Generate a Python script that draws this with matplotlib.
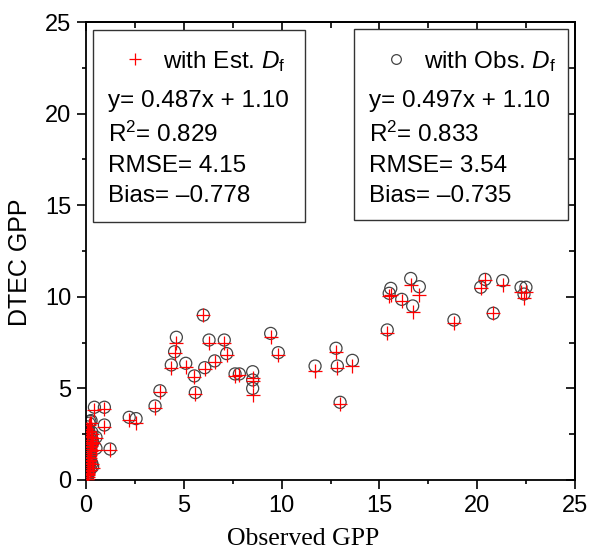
import matplotlib.pyplot as plt
from matplotlib.patches import Rectangle
from matplotlib.ticker import MultipleLocator

plt.rcParams['font.family'] = ['Liberation Sans', 'DejaVu Sans']
plt.rcParams['mathtext.fontset'] = 'custom'
plt.rcParams['mathtext.rm'] = 'Liberation Sans'
plt.rcParams['mathtext.it'] = 'Liberation Sans:italic'

# observed GPP (x) and DTEC GPP with observed / estimated Df (y)
gpp_obs = [
    6.00, 6.29, 7.07, 7.19, 4.62, 4.53, 4.36, 5.10, 5.54, 5.59, 6.07, 6.58,
    7.62, 7.84, 8.52, 8.52, 8.52, 3.78, 3.53, 2.21, 2.56, 1.23, 0.43, 0.94,
    0.94, 0.26, 0.51, 0.51, 0.34,
    9.44, 9.83, 11.71, 12.78, 12.85, 13.62, 12.99, 15.40, 18.81, 20.82, 16.70,
    15.58, 15.50, 16.60, 17.04, 16.14, 20.40, 20.18, 21.30, 22.24, 22.49, 22.39,
    0.05, 0.08, 0.10, 0.12, 0.15, 0.18, 0.20, 0.22, 0.25, 0.28, 0.30, 0.06,
    0.09, 0.11, 0.14, 0.17, 0.19, 0.21, 0.24, 0.27, 0.32, 0.07, 0.13, 0.16,
    0.23, 0.04, 0.10, 0.18, 0.26, 0.12, 0.20, 0.08, 0.15, 0.30, 0.35,
]
dtec_obs_df = [
    9.00, 7.64, 7.64, 6.90, 7.79, 7.00, 6.28, 6.37, 5.68, 4.77, 6.13, 6.50,
    5.79, 5.79, 5.91, 5.46, 5.00, 4.87, 4.04, 3.42, 3.35, 1.69, 3.97, 3.97,
    3.00, 3.24, 2.33, 1.73, 0.73,
    8.00, 6.95, 6.22, 7.19, 6.22, 6.53, 4.24, 8.19, 8.73, 9.10, 9.50,
    10.46, 10.19, 11.00, 10.55, 9.86, 10.95, 10.52, 10.88, 10.52, 10.52, 10.15,
    0.10, 0.30, 0.55, 0.80, 1.00, 1.25, 1.50, 1.75, 2.00, 2.25, 2.60, 2.90,
    0.20, 0.45, 0.70, 0.95, 1.15, 1.40, 1.65, 1.90, 2.15, 2.45, 2.75, 3.10,
    0.60, 0.05, 1.30, 1.85, 2.40, 2.70, 3.20, 0.35, 1.10, 0.90, 2.05,
]
dtec_est_df = [
    9.00, 7.50, 7.50, 6.80, 7.48, 6.95, 6.10, 6.17, 5.60, 4.70, 6.05, 6.45,
    5.70, 5.75, 5.55, 5.40, 4.64, 4.80, 3.95, 3.28, 3.11, 1.65, 3.80, 3.90,
    2.90, 3.10, 2.30, 1.65, 0.65,
    7.82, 6.83, 5.97, 7.00, 6.10, 6.22, 4.15, 8.00, 8.55, 9.10, 9.19,
    10.10, 10.05, 10.65, 10.10, 9.77, 10.90, 10.46, 10.66, 10.28, 10.28, 9.92,
    0.08, 0.25, 0.50, 0.75, 0.95, 1.20, 1.45, 1.70, 1.95, 2.20, 2.50, 2.80,
    0.18, 0.40, 0.65, 0.90, 1.10, 1.35, 1.60, 1.85, 2.10, 2.40, 2.65, 3.00,
    0.55, 0.05, 1.25, 1.80, 2.35, 2.60, 3.10, 0.30, 1.05, 0.85, 2.00,
]

fig = plt.figure(figsize=(5.91, 5.60), dpi=100)
ax = fig.add_axes([0.1455, 0.1429, 0.8275, 0.8178])

ax.scatter(gpp_obs, dtec_obs_df, s=75, facecolors='none', edgecolors='#444444',
           linewidths=0.9, zorder=2)
ax.scatter(gpp_obs, dtec_est_df, s=115, marker='+', color='red', linewidths=0.9,
           zorder=3)

ax.set_xlim(0, 25)
ax.set_ylim(0, 25)
ax.xaxis.set_major_locator(MultipleLocator(5))
ax.xaxis.set_minor_locator(MultipleLocator(2.5))
ax.yaxis.set_major_locator(MultipleLocator(5))
ax.yaxis.set_minor_locator(MultipleLocator(2.5))
ax.tick_params(which='major', direction='out', length=6.5, width=1.2,
               labelsize=17, pad=4)
ax.tick_params(which='minor', direction='out', length=3, width=1.2)
for s in ax.spines.values():
    s.set_linewidth(1.3)

# inward ticks on top and right
top = ax.secondary_xaxis('top')
top.xaxis.set_major_locator(MultipleLocator(5))
top.xaxis.set_minor_locator(MultipleLocator(2.5))
top.set_xticklabels([])
right = ax.secondary_yaxis('right')
right.yaxis.set_major_locator(MultipleLocator(5))
right.yaxis.set_minor_locator(MultipleLocator(2.5))
right.set_yticklabels([])
for sec in (top, right):
    sec.tick_params(which='major', direction='in', length=6.5, width=1.2)
    sec.tick_params(which='minor', direction='in', length=4, width=1.2)
    sec.spines[:].set_linewidth(1.3)


def px(x, y):
    return ((x - 86) / 489, (480 - y) / 458)


yx, yy = px(20, 262)
ax.text(yx, yy, 'DTEC GPP', transform=ax.transAxes, fontsize=18,
        rotation=90, ha='center', va='center')
lx, ly = px(303, 545)
ax.text(lx, ly, 'Observed GPP', transform=ax.transAxes, fontsize=18.5,
        family='Liberation Serif', ha='center', va='baseline')

boxes = [
    (93, 305, 222, 30, 'red', '+', r'with Est. $D_\mathrm{f}$',
     ['y= 0.487x + 1.10', r'R$^2$= 0.829', 'RMSE= 4.15', 'Bias= \u20130.778']),
    (354, 568, 220, 29, '#444444', 'o', r'with Obs. $D_\mathrm{f}$',
     ['y= 0.497x + 1.10', r'R$^2$= 0.833', 'RMSE= 3.54', 'Bias= \u20130.735']),
]
baselines = [107, 142, 172, 202]
for x0, x1, yb, yt, col, mk, head, lines in boxes:
    bx, by = px(x0, yb)
    bx1, by1 = px(x1, yt)
    ax.add_patch(Rectangle((bx, by), bx1 - bx, by1 - by, transform=ax.transAxes,
                           facecolor='white', edgecolor='#333333', linewidth=1.0,
                           zorder=5))
    mx, my = px(x0 + 42, 59)
    if mk == '+':
        ax.plot([mx], [my], marker='+', color=col, ms=9, mew=0.9,
                transform=ax.transAxes, zorder=6, clip_on=False)
    else:
        ax.plot([mx], [my], marker='o', mfc='none', mec=col, ms=7, mew=0.9,
                transform=ax.transAxes, zorder=6, clip_on=False)
    hx, hy = px(x0 + 70, 68)
    ax.text(hx, hy, head, transform=ax.transAxes, fontsize=17.5,
            va='baseline', zorder=6)
    for t, b in zip(lines, baselines):
        tx, ty = px(x0 + 15, b)
        ax.text(tx, ty, t, transform=ax.transAxes, fontsize=17.5,
                va='baseline', zorder=6)

fig.savefig('out.png', dpi=100)
